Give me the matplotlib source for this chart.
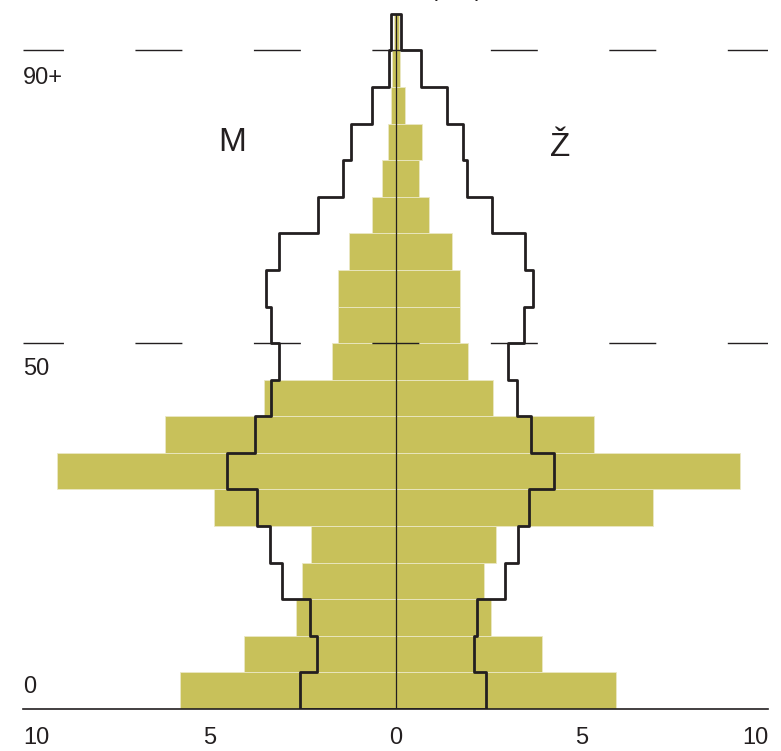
import numpy as np
import matplotlib
matplotlib.use("Agg")
import matplotlib.pyplot as plt

plt.rcParams['font.family'] = ['Liberation Sans', 'DejaVu Sans']

# age groups 0-4 ... 85-89, 90+
age_edges = np.arange(0, 100, 5)

# olive bars (per mille)
men_bar = [5.78, 4.08, 2.68, 2.50, 2.26, 4.88, 9.09, 6.20, 3.54, 1.70,
           1.54, 1.54, 1.26, 0.64, 0.36, 0.21, 0.12, 0.09, 0.04]
women_bar = [5.91, 3.93, 2.57, 2.37, 2.70, 6.91, 9.24, 5.34, 2.61, 1.94,
             1.73, 1.73, 1.53, 0.90, 0.64, 0.70, 0.25, 0.13, 0.10]

# black outline (comparison population)
men_line = [2.56, 2.12, 2.30, 3.06, 3.38, 3.73, 4.53, 3.78, 3.35, 3.12,
            3.35, 3.47, 3.13, 2.08, 1.42, 1.19, 0.63, 0.17, 0.11]
women_line = [2.44, 2.12, 2.20, 2.95, 3.29, 3.58, 4.25, 3.65, 3.27, 3.01,
              3.46, 3.68, 3.48, 2.58, 1.93, 1.82, 1.37, 0.68, 0.16]

xticks = [-10, -5, 0, 5, 10]
xticklabels = ["10", "5", "0", "5", "10"]
age_marks = [50, 90]

olive = "#c8c15a"
ink = "#231f20"

fig = plt.figure(figsize=(7.81, 7.51), dpi=100)
ax = fig.add_axes([23/781, 42/751, 745/781, 709/751])

bottoms = age_edges[:-1]
ax.barh(bottoms, -np.array(men_bar), height=5, left=0, align='edge',
        color=olive, edgecolor='#ebe8c4', linewidth=0.6, zorder=1)
ax.barh(bottoms, women_bar, height=5, left=0, align='edge',
        color=olive, edgecolor='#ebe8c4', linewidth=0.6, zorder=1)

# closed step outline
m_step = -np.append(men_line, men_line[-1])
w_step = np.append(women_line, women_line[-1])
ax.fill_betweenx(age_edges, m_step, w_step, step='post', facecolor='none',
                 edgecolor=ink, linewidth=2.0, zorder=3)

# centre line
ax.vlines(0, 0, age_edges[-1], color=ink, linewidth=0.9, zorder=4)

# dashed age marks
for a in age_marks:
    ax.axhline(a, color=ink, linewidth=1.0, linestyle=(4.7, (33.8, 51.5)), zorder=5)

ax.set_xlim(-10, 10)
ax.set_ylim(0, 96.9)

ax.set_xticks(xticks)
ax.set_xticklabels(xticklabels, fontsize=17, color=ink)
ax.tick_params(axis='x', length=0, pad=13)
labs = ax.get_xticklabels()
labs[0].set_ha('left')
labs[-1].set_ha('right')
ax.set_yticks([])
for s in ['top', 'left', 'right']:
    ax.spines[s].set_visible(False)
ax.spines['bottom'].set_color(ink)
ax.spines['bottom'].set_linewidth(1.2)
ax.spines['bottom'].set_zorder(6)

# age labels
ax.text(-10, 3.0, "0", fontsize=17, color=ink, ha='left', va='center')
ax.text(-10, 46.4, "50", fontsize=17, color=ink, ha='left', va='center')
ax.text(-10, 86.3, "90+", fontsize=17, color=ink, ha='left', va='center')

ax.text(-4.38, 77.4, "M", fontsize=24, color=ink, ha='center', va='center')
ax.text(4.41, 76.7, "Ž", fontsize=24, color=ink, ha='center', va='center')

fig.text(456.5/781, 1 + 4/751, "( ‰ )", fontsize=17, color=ink,
         ha='center', va='baseline')

fig.savefig("out.png", dpi=100)
